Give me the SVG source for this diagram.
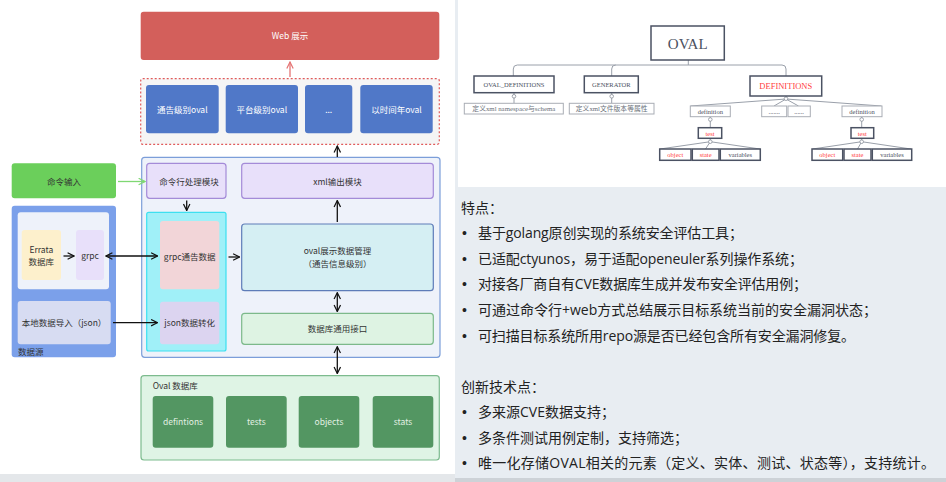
<svg xmlns="http://www.w3.org/2000/svg" width="946" height="482" viewBox="0 0 946 482">
<defs>
<style>
.t{font-family:"Noto Sans CJK SC","Noto Sans",sans-serif;font-size:8.5px;text-anchor:middle;fill:#333}
.tw{fill:#fff}
.blue{fill:#5078C8}
.grn{fill:#539662}
.pur{fill:#E8E0FA;stroke:#A48BD8;stroke-width:1.2}
.ar{fill:none;stroke:#111;stroke-width:1.3}
.ser{font-family:"Liberation Serif","Noto Sans CJK SC",serif;text-anchor:middle;fill:#4A5060}
.bx{fill:#fff;stroke:#4B5263;stroke-width:1.5}
.lb{fill:#fff;stroke:#A9ADB5;stroke-width:1}
.tl{fill:none;stroke:#9AA0AA;stroke-width:1}
.cir{fill:#fff;stroke:#8A909A;stroke-width:0.8}
.ft{font-family:"Open Sans","Noto Sans CJK SC",sans-serif;font-size:14px;fill:#222}
.bu{font-family:"Liberation Sans",sans-serif;font-size:14px;fill:#222}
</style>
<marker id="ah" viewBox="0 0 10 10" refX="9" refY="5" markerWidth="8" markerHeight="8" markerUnits="userSpaceOnUse" orient="auto-start-reverse"><path d="M1,1 L9,5 L1,9" fill="none" stroke="#111" stroke-width="1.5"/></marker>
<marker id="ahr" viewBox="0 0 10 10" refX="9" refY="5" markerWidth="8" markerHeight="8" markerUnits="userSpaceOnUse" orient="auto"><path d="M1,1 L9,5 L1,9" fill="none" stroke="#E57373" stroke-width="1.5"/></marker>
<marker id="ahg" viewBox="0 0 10 10" refX="9" refY="5" markerWidth="8" markerHeight="8" markerUnits="userSpaceOnUse" orient="auto"><path d="M1,1 L9,5 L1,9" fill="none" stroke="#7FD873" stroke-width="1.5"/></marker>
</defs>

<!-- backgrounds -->
<rect x="0" y="0" width="946" height="482" fill="#E8EDF2"/>
<rect x="0" y="474" width="455" height="8" fill="#E4E7EA"/>
<rect x="0" y="0" width="455" height="474" fill="#fff"/>
<rect x="458" y="0" width="488" height="187" fill="#fff"/>
<rect x="455" y="478" width="491" height="4" fill="#CDD2D7"/>

<!-- left architecture -->
<g id="web">
<rect x="140.7" y="11.7" width="298.6" height="48.3" rx="3" fill="#D35F5B"/>
<text class="t tw" x="290" y="39" font-size="9">Web 展示</text>
</g>

<g id="oval-views">
<rect x="140.7" y="78.7" width="298.6" height="65.6" rx="2" fill="#F5F5F5" stroke="#E05A5A" stroke-width="1.2" stroke-dasharray="2,2"/>
<rect class="blue" x="146" y="85" width="72.7" height="48.3" rx="3"/>
<text class="t tw" x="182.3" y="112.5">通告级别oval</text>
<rect class="blue" x="225.7" y="85" width="72.3" height="48.3" rx="3"/>
<text class="t tw" x="261.8" y="112.5">平台级别oval</text>
<rect class="blue" x="305" y="85" width="47.3" height="48.3" rx="3"/>
<text class="t tw" x="328.7" y="112.5">...</text>
<rect class="blue" x="360.3" y="85" width="72.4" height="48.3" rx="3"/>
<text class="t tw" x="396.5" y="112.5">以时间年oval</text>
</g>

<g id="cmd-input">
<rect x="11.7" y="163.3" width="104.3" height="35" rx="3" fill="#6BCF5B"/>
<text class="t" x="64" y="184.5">命令输入</text>
</g>

<g id="core">
<rect x="141.7" y="157.3" width="298.3" height="200" rx="3" fill="#EEF2FA" stroke="#7C9ED9" stroke-width="1.2"/>
</g>

<g id="cmd-module">
<rect class="pur" x="146.7" y="163.3" width="79.3" height="35" rx="3"/>
<text class="t" x="189" y="184.5" font-size="9">命令行处理模块</text>
</g>

<g id="xml-module">
<rect class="pur" x="241.7" y="163.3" width="191.6" height="35" rx="3"/>
<text class="t" x="337.5" y="184.5">xml输出模块</text>
</g>

<g id="data-group">
<rect x="146.7" y="212.3" width="79.3" height="138.7" rx="2" fill="#A0F0F8" stroke="#3DE0F0" stroke-width="1.2"/>
</g>

<g id="grpc-data">
<rect x="160" y="221" width="59.3" height="68.3" rx="3" fill="#F2D5D8"/>
<text class="t" x="189.7" y="259.5">grpc通告数据</text>
</g>

<g id="json-conv">
<rect x="160" y="301.7" width="59.3" height="42.6" rx="3" fill="#DCD4F0"/>
<text class="t" x="189.7" y="326">json数据转化</text>
</g>

<g id="oval-mgr">
<rect x="241.7" y="224" width="191.6" height="66.7" rx="3" fill="#D5EFF3" stroke="#5E7CB8" stroke-width="1.2"/>
<text class="t" x="337.5" y="254">oval展示数据管理</text>
<text class="t" x="337.5" y="267">（通告信息级别）</text>
</g>

<g id="db-api">
<rect x="241.7" y="313.3" width="191.6" height="31" rx="3" fill="#DEF3E3" stroke="#7CB98A" stroke-width="1.2"/>
<text class="t" x="337.5" y="332">数据库通用接口</text>
</g>

<g id="datasource">
<rect x="11.7" y="205.7" width="104.3" height="151.6" rx="3" fill="#7BA0EA"/>
<text class="t" x="18" y="355" style="text-anchor:start">数据源</text>
<rect x="17.7" y="212.3" width="91.3" height="77" rx="3" fill="#EEF2FA"/>
</g>

<g id="errata">
<rect x="21.7" y="230" width="39.3" height="50" rx="3" fill="#FDF0CC"/>
<text class="t" x="41.3" y="252.5">Errata</text>
<text class="t" x="41.3" y="265">数据库</text>
</g>

<g id="grpc">
<rect x="76" y="230" width="28" height="50" rx="3" fill="#E8E0FA"/>
<text class="t" x="90" y="258.5">grpc</text>
</g>

<g id="local-import">
<rect x="17.7" y="301" width="93" height="43.3" rx="3" fill="#D7DCF2"/>
<text class="t" x="64" y="325.5">本地数据导入（json）</text>
</g>

<g id="oval-db">
<rect x="141" y="375.7" width="298.3" height="84.3" rx="3" fill="#DFF4E5" stroke="#7DBB8E" stroke-width="1.2"/>
<text class="t" x="152.7" y="389" style="text-anchor:start" font-size="9">Oval 数据库</text>
<rect class="grn" x="152.7" y="396" width="60.6" height="51.7" rx="3"/>
<text class="t" x="183" y="425" style="fill:#E2F0E2">defintions</text>
<rect class="grn" x="226" y="396" width="60.7" height="51.7" rx="3"/>
<text class="t" x="256.3" y="425" style="fill:#E2F0E2">tests</text>
<rect class="grn" x="298.7" y="396" width="60.6" height="51.7" rx="3"/>
<text class="t" x="329" y="425" style="fill:#E2F0E2">objects</text>
<rect class="grn" x="372.7" y="396" width="60.6" height="51.7" rx="3"/>
<text class="t" x="403" y="425" style="fill:#E2F0E2">stats</text>
</g>

<g id="connectors">
<line x1="290" y1="77" x2="290" y2="62" stroke="#E57373" stroke-width="1.3" marker-end="url(#ahr)"/>
<line class="ar" x1="337.3" y1="157" x2="337.3" y2="146" marker-end="url(#ah)"/>
<line x1="118" y1="181.5" x2="145" y2="181.5" stroke="#7FD873" stroke-width="1.3" marker-end="url(#ahg)"/>
<line class="ar" x1="186.7" y1="200.5" x2="186.7" y2="210.5" marker-end="url(#ah)"/>
<line class="ar" x1="63.5" y1="256" x2="74" y2="256" marker-end="url(#ah)"/>
<line class="ar" x1="106" y1="256" x2="157.5" y2="256" marker-start="url(#ah)" marker-end="url(#ah)"/>
<line class="ar" x1="113" y1="322.7" x2="157.5" y2="322.7" stroke="#333" marker-end="url(#ah)"/>
<line class="ar" x1="228.5" y1="257" x2="239.5" y2="257" marker-end="url(#ah)"/>
<line class="ar" x1="337.3" y1="222" x2="337.3" y2="200.5" marker-end="url(#ah)"/>
<line class="ar" x1="337.3" y1="292.7" x2="337.3" y2="311.5" marker-start="url(#ah)" marker-end="url(#ah)"/>
<line class="ar" x1="337.3" y1="346.7" x2="337.3" y2="373.5" marker-start="url(#ah)" marker-end="url(#ah)"/>
</g>

<!-- OVAL tree (right top) -->
<g id="oval-tree-lines">
<path class="tl" d="M688.3,60 V65 M517.3,65 H782 M513.3,76 V69 Q513.3,65 517.3,65 M611.7,76 V69 Q611.7,65 615.7,65 M786,76 V69 Q786,65 782,65"/>
<path class="tl" d="M514,92.7 V103.3 M611.7,92.7 V103.3 M786,96 V99 M786,99 L690.5,106 M786,99 L774,106 M786,99 L798.5,106 M786,99 L881.5,106"/>
<path class="tl" d="M710.3,116.7 V127.7 M710.3,138.3 V141.7 L660,149 M710.3,141.7 L705.5,149 M710.3,141.7 L760,149"/>
<path class="tl" d="M861.7,116.7 V127.7 M861.7,138.3 V141.7 L812.5,149 M861.7,141.7 L857.5,149 M861.7,141.7 L911,149"/>
<circle class="cir" cx="514" cy="96.3" r="1.8"/>
<circle class="cir" cx="611.7" cy="96.3" r="1.8"/>
<circle class="cir" cx="786" cy="98.7" r="1.8"/>
<circle class="cir" cx="710.3" cy="119.5" r="1.8"/>
<circle class="cir" cx="710.3" cy="141.7" r="1.8"/>
<circle class="cir" cx="861.7" cy="119.5" r="1.8"/>
<circle class="cir" cx="861.7" cy="141.7" r="1.8"/>
</g>

<g id="oval-root">
<rect class="bx" x="651" y="26" width="73.3" height="34"/>
<text class="ser" x="687.7" y="49" font-size="15">OVAL</text>
</g>
<g id="oval-definitions">
<rect class="bx" x="474" y="76" width="80" height="16.7"/>
<text class="ser" x="514" y="87" font-size="6.5">OVAL_DEFINITIONS</text>
<rect class="lb" x="464.3" y="103.3" width="99" height="10.7"/>
<text class="ser" x="513.8" y="111.3" font-size="6.8" style="fill:#6A707A">定义xml namespace与schema</text>
</g>
<g id="generator">
<rect class="bx" x="584.3" y="76" width="54" height="16.7"/>
<text class="ser" x="611.3" y="87" font-size="6.5">GENERATOR</text>
<rect class="lb" x="569.3" y="103.3" width="84.7" height="10.7"/>
<text class="ser" x="611.7" y="111.3" font-size="6.8" style="fill:#6A707A">定义xml文件版本等属性</text>
</g>
<g id="definitions">
<rect class="bx" x="750" y="76" width="71.7" height="20"/>
<text class="ser" x="785.8" y="89.3" font-size="8.5" style="fill:#FF4040">DEFINITIONS</text>
</g>
<g id="definition-left">
<rect class="lb" x="690.3" y="106" width="40" height="10.7"/>
<text class="ser" x="710.3" y="114" font-size="6.5">definition</text>
</g>
<g id="dots1">
<rect class="lb" x="761.7" y="106" width="25" height="10.7"/>
<text class="ser" x="774.2" y="114" font-size="6.5">.......</text>
</g>
<g id="dots2">
<rect class="lb" x="788" y="106" width="22.3" height="10.7"/>
<text class="ser" x="799.1" y="114" font-size="6.5">......</text>
</g>
<g id="definition-right">
<rect class="lb" x="842" y="106" width="40" height="10.7"/>
<text class="ser" x="862" y="114" font-size="6.5">definition</text>
</g>
<g id="test-left">
<rect class="bx" x="698.3" y="127.7" width="23.4" height="10.6"/>
<text class="ser" x="710" y="135.6" font-size="6.5" style="fill:#FF4040">test</text>
</g>
<g id="test-right">
<rect class="bx" x="851" y="127.7" width="22.7" height="10.6"/>
<text class="ser" x="862.3" y="135.6" font-size="6.5" style="fill:#FF4040">test</text>
</g>
<g id="leaf-left">
<rect class="bx" x="659.7" y="149" width="31.3" height="11.3"/>
<text class="ser" x="675.3" y="157.3" font-size="6.5" style="fill:#FF4040">object</text>
<rect class="bx" x="692.3" y="149" width="26.7" height="11.3"/>
<text class="ser" x="705.6" y="157.3" font-size="6.5" style="fill:#FF4040">state</text>
<rect class="bx" x="720.3" y="149" width="40" height="11.3"/>
<text class="ser" x="740.3" y="157.3" font-size="6.5">variables</text>
</g>
<g id="leaf-right">
<rect class="bx" x="812" y="149" width="30.7" height="11.3"/>
<text class="ser" x="827.3" y="157.3" font-size="6.5" style="fill:#FF4040">object</text>
<rect class="bx" x="844" y="149" width="27" height="11.3"/>
<text class="ser" x="857.5" y="157.3" font-size="6.5" style="fill:#FF4040">state</text>
<rect class="bx" x="872.3" y="149" width="39.4" height="11.3"/>
<text class="ser" x="892" y="157.3" font-size="6.5">variables</text>
</g>

<!-- feature text -->
<g id="features">
<text class="ft" x="461" y="213">特点：</text>
<text class="bu" x="462" y="238">•</text><text class="ft" x="478" y="238" textLength="265" lengthAdjust="spacing">基于golang原创实现的系统安全评估工具；</text>
<text class="bu" x="462" y="264">•</text><text class="ft" x="478" y="264" textLength="325" lengthAdjust="spacing">已适配ctyunos，易于适配openeuler系列操作系统；</text>
<text class="bu" x="462" y="289">•</text><text class="ft" x="478" y="289" textLength="329" lengthAdjust="spacing">对接各厂商自有CVE数据库生成并发布安全评估用例；</text>
<text class="bu" x="462" y="315">•</text><text class="ft" x="478" y="315" textLength="399" lengthAdjust="spacing">可通过命令行+web方式总结展示目标系统当前的安全漏洞状态；</text>
<text class="bu" x="462" y="340.5">•</text><text class="ft" x="478" y="340.5" textLength="377" lengthAdjust="spacing">可扫描目标系统所用repo源是否已经包含所有安全漏洞修复。</text>
</g>
<g id="innovations">
<text class="ft" x="461" y="391.5">创新技术点：</text>
<text class="bu" x="462" y="417">•</text><text class="ft" x="478" y="417">多来源CVE数据支持；</text>
<text class="bu" x="462" y="443">•</text><text class="ft" x="478" y="443">多条件测试用例定制，支持筛选；</text>
<text class="bu" x="462" y="468">•</text><text class="ft" x="478" y="468" textLength="457" lengthAdjust="spacing">唯一化存储OVAL相关的元素（定义、实体、测试、状态等），支持统计。</text>
</g>
</svg>
